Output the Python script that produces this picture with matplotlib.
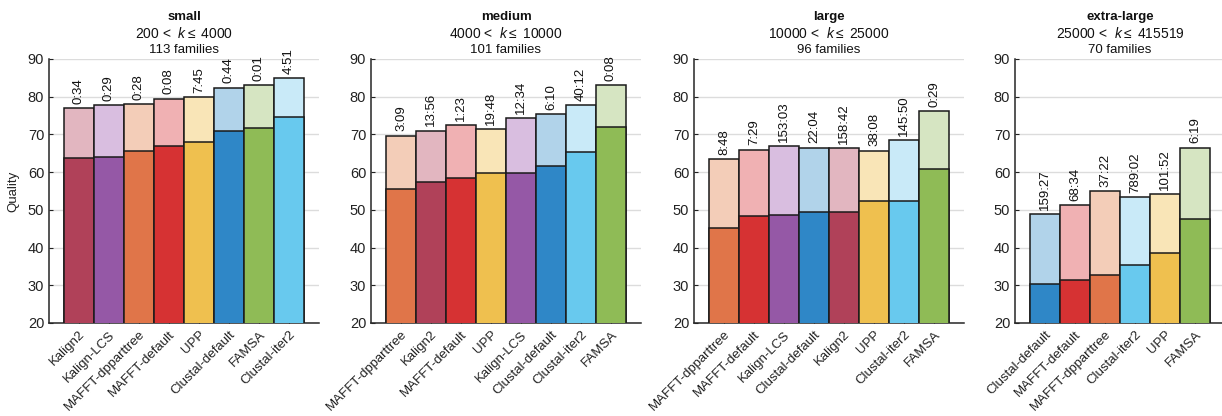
import matplotlib
matplotlib.use("Agg")
import matplotlib.pyplot as plt

plt.rcParams['font.family'] = ['Liberation Sans', 'DejaVu Sans']
plt.rcParams['mathtext.fontset'] = 'custom'
plt.rcParams['mathtext.rm'] = 'Liberation Sans'
plt.rcParams['mathtext.it'] = 'Liberation Sans:italic'

# Data per size group
small_methods = ["Kalign2", "Kalign-LCS", "MAFFT-dpparttree", "MAFFT-default",
                 "UPP", "Clustal-default", "FAMSA", "Clustal-iter2"]
small_outer = [76.9, 77.8, 78.0, 79.5, 79.8, 82.4, 83.0, 84.9]
small_inner = [63.7, 64.1, 65.5, 66.9, 68.0, 70.9, 71.6, 74.7]
small_times = ["0:34", "0:29", "0:28", "0:08", "7:45", "0:44", "0:01", "4:51"]

medium_methods = ["MAFFT-dpparttree", "Kalign2", "MAFFT-default", "UPP",
                  "Kalign-LCS", "Clustal-default", "Clustal-iter2", "FAMSA"]
medium_outer = [69.7, 71.0, 72.5, 71.5, 74.3, 75.4, 77.8, 83.0]
medium_inner = [55.4, 57.3, 58.4, 59.8, 59.7, 61.6, 65.3, 72.1]
medium_times = ["3:09", "13:56", "1:23", "19:48", "12:34", "6:10", "40:12", "0:08"]

large_methods = ["MAFFT-dpparttree", "MAFFT-default", "Kalign-LCS", "Clustal-default",
                 "Kalign2", "UPP", "Clustal-iter2", "FAMSA"]
large_outer = [63.5, 66.0, 67.0, 66.5, 66.4, 65.7, 68.6, 76.3]
large_inner = [45.1, 48.4, 48.6, 49.4, 49.5, 52.4, 52.4, 60.9]
large_times = ["8:48", "7:29", "153:03", "22:04", "158:42", "38:08", "145:50", "0:29"]

xl_methods = ["Clustal-default", "MAFFT-default", "MAFFT-dpparttree",
              "Clustal-iter2", "UPP", "FAMSA"]
xl_outer = [48.9, 51.3, 54.9, 53.3, 54.1, 66.5]
xl_inner = [30.4, 31.4, 32.6, 35.4, 38.6, 47.7]
xl_times = ["159:27", "68:34", "37:22", "789:02", "101:52", "6:19"]

titles = ["small", "medium", "large", "extra-large"]
ranges = [r"200 <  $k \leq$ 4000", r"4000 <  $k \leq$ 10000",
          r"10000 <  $k \leq$ 25000", r"25000 <  $k \leq$ 415519"]
families = ["113 families", "101 families", "96 families", "70 families"]

dark = {
    "Kalign2": "#b04159", "Kalign-LCS": "#9558a6", "MAFFT-dpparttree": "#e07549",
    "MAFFT-default": "#d63233", "UPP": "#efc04f", "Clustal-default": "#2f87c7",
    "FAMSA": "#8fbb56", "Clustal-iter2": "#68c9ee",
}
light = {
    "Kalign2": "#e2b6c0", "Kalign-LCS": "#d9bee0", "MAFFT-dpparttree": "#f3cdb8",
    "MAFFT-default": "#f0b1b3", "UPP": "#f9e5b7", "Clustal-default": "#b1d3ea",
    "FAMSA": "#d6e5c2", "Clustal-iter2": "#c9eaf8",
}

groups = [
    (small_methods, small_outer, small_inner, small_times),
    (medium_methods, medium_outer, medium_inner, medium_times),
    (large_methods, large_outer, large_inner, large_times),
    (xl_methods, xl_outer, xl_inner, xl_times),
]

fig = plt.figure(figsize=(12.22, 4.16), dpi=100)
lefts = [49, 371, 694, 1015]
unit = 30.0
fs = 9.5

for i, (methods, outer, inner, times) in enumerate(groups):
    n = len(methods)
    w = unit * (n + 1)
    ax = fig.add_axes([lefts[i] / 1222, 1 - 323 / 416, w / 1222, 264 / 416])
    x = list(range(n))
    ax.bar(x, outer, width=1.0, bottom=0,
           color=[light[m] for m in methods], edgecolor="#1a1a1a", linewidth=1.1, zorder=2)
    ax.bar(x, inner, width=1.0, bottom=0,
           color=[dark[m] for m in methods], edgecolor="#1a1a1a", linewidth=1.1, zorder=3)
    for xi, v, t in zip(x, outer, times):
        ax.annotate(t, (xi, v), xytext=(0, 3), textcoords="offset points",
                    rotation=90, ha="center", va="bottom", fontsize=fs, color="#111111")
    ax.set_xlim(-1, n)
    ax.set_ylim(20, 90)
    ax.set_yticks(range(20, 91, 10))
    ax.set_xticks(x)
    ax.set_xticklabels(methods, rotation=45, ha="right", rotation_mode="anchor",
                       fontsize=fs, color="#222222")
    ax.tick_params(axis="y", labelsize=fs + 1, colors="#222222", direction="in", length=3)
    ax.tick_params(axis="x", direction="in", length=3, pad=4)
    ax.yaxis.grid(True, color="#dcdcdc", linewidth=1.0)
    ax.set_axisbelow(True)
    for s in ["top", "right"]:
        ax.spines[s].set_visible(False)
    for s in ["left", "bottom"]:
        ax.spines[s].set_color("#262626")
        ax.spines[s].set_linewidth(1.1)
    ax.text(0.5, 1 + 42 / 264, titles[i], transform=ax.transAxes, ha="center",
            va="center", fontsize=fs, fontweight="bold", color="#111111")
    ax.text(0.5, 1 + 26 / 264, ranges[i], transform=ax.transAxes, ha="center",
            va="center", fontsize=fs + 0.5, color="#111111")
    ax.text(0.5, 1 + 9 / 264, families[i], transform=ax.transAxes, ha="center",
            va="center", fontsize=fs, color="#111111")
    if i == 0:
        ax.set_ylabel("Quality", fontsize=fs, color="#222222", labelpad=6)

fig.savefig("out.png", dpi=100)
